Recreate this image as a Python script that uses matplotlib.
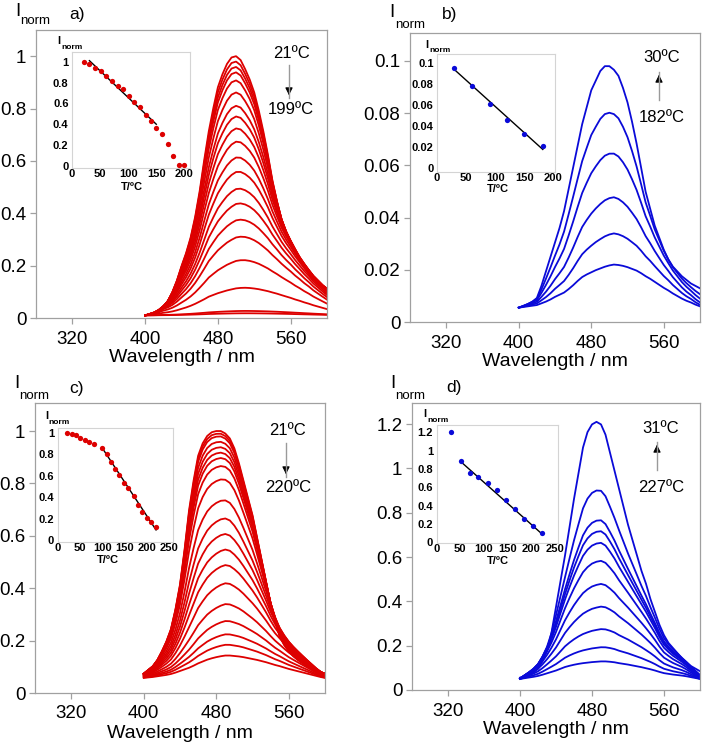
import matplotlib
matplotlib.use('Agg')
import matplotlib.pyplot as plt
import matplotlib.patches as mpatches
import numpy as np
from matplotlib.lines import Line2D

plt.rcParams['font.family'] = ['Liberation Sans', 'DejaVu Sans']

# ---------------- data ----------------
wavelength = [400, 405, 410, 415, 420, 425, 430, 435, 440, 445, 450,
              455, 460, 465, 470, 475, 480, 485, 490, 495, 500,
              505, 510, 515, 520, 525, 530, 535, 540, 545, 550,
              555, 560, 565, 570, 575, 580, 585, 590, 595, 600]

# panel a (red) - normalised shapes of the strongest / weakest spectra
a_top = [0, .002, .005, .012, .03, .055, .09, .135, .19, .24, .30,
         .38, .48, .60, .71, .80, .88, .93, .97, .995, 1.0,
         .985, .95, .91, .86, .79, .71, .62, .52, .44, .37,
         .32, .28, .245, .21, .185, .16, .14, .125, .11, .10]
a_bot = [0, .02, .04, .07, .10, .12, .15, .19, .24, .29, .35,
         .42, .50, .58, .67, .73, .79, .84, .89, .93, .97,
         .99, 1.0, .995, .98, .96, .93, .90, .86, .82, .77,
         .72, .67, .61, .56, .50, .45, .39, .34, .29, .24]
a_peaks = [1.0, 0.98, 0.96, 0.94, 0.91, 0.865, 0.815, 0.775, 0.73, 0.68,
           0.62, 0.565, 0.50, 0.443, 0.38, 0.314, 0.223, 0.116, 0.027, 0.018]
a_base = 0.01
a_T = [21, 31, 41, 51, 61, 71, 81, 91, 101, 111, 121, 131, 141, 150, 160, 171, 180, 190, 199]
a_I = [1.0, 0.975, 0.943, 0.911, 0.863, 0.812, 0.77, 0.735, 0.674, 0.617,
       0.563, 0.492, 0.434, 0.367, 0.304, 0.208, 0.099, 0.012, 0.005]
a_fit_T = [31, 150]
a_fit_I = [1.01, 0.40]

# panel b (blue)
b_top = [0, .007, .015, .025, .04, .09, .15, .21, .27, .33, .40,
         .49, .58, .67, .76, .83, .90, .94, .98, 1.0, 1.0,
         .985, .96, .91, .85, .77, .68, .58, .48, .41, .34,
         .29, .24, .20, .17, .15, .13, .115, .10, .09, .08]
b_bot = [0, .015, .03, .045, .06, .10, .14, .19, .25, .30, .35,
         .43, .52, .62, .71, .77, .82, .87, .91, .95, .98,
         1.0, .99, .97, .94, .90, .86, .80, .73, .67, .60,
         .53, .46, .40, .33, .27, .21, .16, .12, .07, .03]
b_peaks = [0.098, 0.0805, 0.065, 0.048, 0.034, 0.022]
b_base = 0.0055
b_T = [30, 61, 91, 121, 150, 182]
b_I = [0.096, 0.078, 0.061, 0.046, 0.033, 0.021]
b_fit_T = [30, 182]
b_fit_I = [0.094, 0.018]

# panel c (red)
c_top = [.02, .035, .05, .075, .11, .15, .20, .28, .38, .52, .68,
         .80, .90, .95, .98, .995, 1.0, 1.0, .99, .97, .93,
         .87, .80, .73, .66, .57, .48, .39, .30, .23, .17,
         .135, .11, .09, .075, .062, .05, .04, .03, .025, .02]
c_bot = [.03, .05, .07, .10, .13, .16, .20, .26, .33, .40, .47,
         .56, .66, .74, .82, .88, .93, .97, 1.0, 1.0, .98,
         .96, .93, .89, .85, .81, .76, .71, .65, .59, .54,
         .48, .42, .37, .32, .27, .22, .17, .12, .07, .03]
c_peaks = [1.0, 0.99, 0.98, 0.96, 0.94, 0.92, 0.90, 0.87, 0.82, 0.74,
           0.67, 0.61, 0.55, 0.49, 0.42, 0.34, 0.275, 0.224, 0.184, 0.143]
c_base = 0.055
c_T = [21, 32, 41, 50, 60, 70, 81, 99, 110, 119, 128, 138, 148, 158, 170, 179, 189, 199, 209, 219]
c_I = [1.0, 0.987, 0.98, 0.955, 0.932, 0.916, 0.896, 0.863, 0.808, 0.73,
       0.665, 0.604, 0.533, 0.49, 0.416, 0.331, 0.26, 0.208, 0.166, 0.124]
c_fit_T = [99, 220]
c_fit_I = [0.865, 0.095]

# panel d (blue)
d_top = [.005, .01, .015, .025, .04, .07, .11, .18, .28, .38, .48,
         .59, .70, .80, .90, .96, .99, 1.0, .99, .95, .88,
         .81, .74, .67, .60, .54, .48, .42, .37, .31, .26,
         .21, .17, .14, .12, .10, .08, .065, .05, .04, .03]
d_bot = [0, .04, .08, .12, .17, .24, .32, .40, .48, .58, .68,
         .75, .81, .86, .90, .93, .96, .98, 1.0, 1.0, .98,
         .95, .90, .86, .82, .77, .72, .67, .61, .55, .48,
         .40, .33, .29, .25, .22, .19, .15, .10, .05, 0]
d_peaks = [1.21, 0.905, 0.77, 0.72, 0.667, 0.585, 0.48, 0.377, 0.275, 0.193, 0.129]
d_base = 0.05
d_T = [30, 51, 70, 88, 108, 127, 147, 166, 185, 203, 222]
d_I = [1.2, 0.888, 0.761, 0.71, 0.651, 0.567, 0.461, 0.359, 0.252, 0.175, 0.106]
d_fit_T = [51, 222]
d_fit_I = [0.88, 0.095]

x_ticks = [320, 400, 480, 560]

# ---------------- layout helpers ----------------
W, H = 702, 746
fig = plt.figure(figsize=(W / 100, H / 100), dpi=100)


def fx(x):
    return x / W


def fy(y):
    return 1 - y / H


def rect(l, t, r, b):
    return [fx(l), fy(b), (r - l) / W, (b - t) / H]


RED = '#dd0000'
BLUE = '#0a0ad8'
SPINE = '#a0a0a0'

panels = [
    dict(top=a_top, bot=a_bot, peaks=a_peaks, base=a_base, color=RED,
         T=a_T, I=a_I, fT=a_fit_T, fI=a_fit_I,
         box=(36, 30, 327, 318), ylim=(0, 1.1), yt=[0, 0.2, 0.4, 0.6, 0.8, 1.0],
         inset=(72, 51.7, 190, 168), ixlim=(0, 210), iylim=(-0.02, 1.096),
         ixt=[0, 50, 100, 150, 200], iyt=[0, 0.2, 0.4, 0.6, 0.8, 1.0],
         letter='a)', lpos=(18, 11, 35, 21, 77, 14),
         ilab=(59, 41, 72, 47.5), txy=(132, 187),
         t1='21ºC', t2='199ºC', t1y=53, t2y=110, tx=291, ax_x=289, a_tail=65, a_tip=98),
    dict(top=b_top, bot=b_bot, peaks=b_peaks, base=b_base, color=BLUE,
         T=b_T, I=b_I, fT=b_fit_T, fI=b_fit_I,
         box=(410, 33, 700, 322), ylim=(0, 0.1107), yt=[0, 0.02, 0.04, 0.06, 0.08, 0.1],
         inset=(437, 54.3, 555, 171.5), ixlim=(0, 203), iylim=(-0.003, 0.1086),
         ixt=[0, 50, 100, 150, 200], iyt=[0, 0.02, 0.04, 0.06, 0.08, 0.1],
         letter='b)', lpos=(392, 12.5, 410, 25, 450, 14),
         ilab=(426.5, 45, 439.5, 51), txy=(497.5, 189),
         t1='30ºC', t2='182ºC', t1y=58, t2y=117, tx=662, ax_x=659, a_tail=100, a_tip=72),
    dict(top=c_top, bot=c_bot, peaks=c_peaks, base=c_base, color=RED,
         T=c_T, I=c_I, fT=c_fit_T, fI=c_fit_I,
         box=(35, 403, 325, 693), ylim=(0, 1.107), yt=[0, 0.2, 0.4, 0.6, 0.8, 1.0],
         inset=(57.7, 427.7, 173, 541.7), ixlim=(0, 258), iylim=(-0.015, 1.05),
         ixt=[0, 50, 100, 150, 200, 250], iyt=[0, 0.2, 0.4, 0.6, 0.8, 1.0],
         letter='c)', lpos=(17, 383.5, 34, 396, 77, 388),
         ilab=(46.5, 416, 59, 422.5), txy=(108, 560),
         t1='21ºC', t2='220ºC', t1y=430, t2y=488, tx=288, ax_x=286, a_tail=443, a_tip=477),
    dict(top=d_top, bot=d_bot, peaks=d_peaks, base=d_base, color=BLUE,
         T=d_T, I=d_I, fT=d_fit_T, fI=d_fit_I,
         box=(412, 403, 700, 690), ylim=(0, 1.295), yt=[0, 0.2, 0.4, 0.6, 0.8, 1.0, 1.2],
         inset=(436.7, 425, 557.7, 543), ixlim=(0, 256), iylim=(-0.007, 1.28),
         ixt=[0, 50, 100, 150, 200, 250], iyt=[0, 0.2, 0.4, 0.6, 0.8, 1.0, 1.2],
         letter='d)', lpos=(392.5, 383.5, 410, 396, 454, 387.5),
         ilab=(425, 414, 438, 420.5), txy=(498, 561),
         t1='31ºC', t2='227ºC', t1y=428, t2y=487, tx=661, ax_x=657, a_tail=470, a_tip=442),
]


def fmt(v):
    return '%g' % v


for p in panels:
    l, t, r, b = p['box']
    ax = fig.add_axes(rect(l, t, r, b))
    top = np.array(p['top'])
    bot = np.array(p['bot'])
    pk = p['peaks']
    pmax, pmin = max(pk), min(pk)
    for peak in pk:
        w = (peak - pmin) / (pmax - pmin)
        shape = w * top + (1 - w) * bot
        y = p['base'] + (peak - p['base']) * shape
        ax.plot(wavelength, y, color=p['color'], lw=1.3, solid_joinstyle='round')
    ax.set_xlim(280, 600)
    ax.set_ylim(*p['ylim'])
    ax.set_xticks(x_ticks)
    ax.set_xticklabels([str(v) for v in x_ticks])
    ax.set_yticks(p['yt'])
    ax.set_yticklabels([fmt(v) for v in p['yt']])
    for s in ax.spines.values():
        s.set_color(SPINE)
        s.set_linewidth(0.9)
    ax.tick_params(axis='both', direction='out', length=4, width=0.9,
                   color=SPINE, labelsize=13.5, labelcolor='black')
    ax.tick_params(axis='x', pad=5)
    ax.tick_params(axis='y', pad=3)
    # x label
    fig.text(fx((l + r) / 2), fy(b + 40), 'Wavelength / nm', ha='center', va='center', fontsize=14)
    # I_norm label + panel letter
    ix, iy, nx, ny, lx, ly = p['lpos']
    fig.text(fx(ix), fy(iy), 'I', ha='center', va='center', fontsize=13.5)
    fig.text(fx(nx), fy(ny), 'norm', ha='center', va='center', fontsize=9.5)
    fig.text(fx(lx), fy(ly), p['letter'], ha='center', va='center', fontsize=12.5)
    # temperature annotations
    fig.text(fx(p['tx']), fy(p['t1y']), p['t1'], ha='center', va='center', fontsize=12)
    fig.text(fx(p['tx']), fy(p['t2y']), p['t2'], ha='center', va='center', fontsize=12)
    xa = p['ax_x']
    fig.add_artist(Line2D([fx(xa), fx(xa)], [fy(p['a_tail']), fy(p['a_tip'])],
                          color='#9a9a9a', lw=1.0))
    direction = 1 if p['a_tip'] > p['a_tail'] else -1
    fig.add_artist(mpatches.FancyArrowPatch(
        (fx(xa), fy(p['a_tip'] - direction * 8)), (fx(xa), fy(p['a_tip'])),
        transform=fig.transFigure, arrowstyle='-|>', mutation_scale=11,
        color='black', lw=0.8))

    # inset
    il, it, ir, ib = p['inset']
    ai = fig.add_axes(rect(il, it, ir, ib))
    ai.plot(p['fT'], p['fI'], color='black', lw=1.0, zorder=2)
    ai.plot(p['T'], p['I'], 'o', color=p['color'], ms=3.8, mec='none', zorder=3, clip_on=False)
    ai.set_xlim(*p['ixlim'])
    ai.set_ylim(*p['iylim'])
    ai.set_xticks(p['ixt'])
    ai.set_xticklabels([fmt(v) for v in p['ixt']])
    ai.set_yticks(p['iyt'])
    ai.set_yticklabels([fmt(v) for v in p['iyt']])
    for s in ai.spines.values():
        s.set_color('#d4d4d4')
        s.set_linewidth(0.8)
    ai.tick_params(axis='both', length=0, labelsize=8)
    ai.tick_params(axis='x', pad=1)
    ai.tick_params(axis='y', pad=2.5)
    for lab in ai.get_xticklabels() + ai.get_yticklabels():
        lab.set_fontweight('bold')
    a1, b1, a2, b2 = p['ilab']
    fig.text(fx(a1), fy(b1), 'I', ha='center', va='center', fontsize=8, fontweight='bold')
    fig.text(fx(a2), fy(b2), 'norm', ha='center', va='center', fontsize=6, fontweight='bold')
    fig.text(fx(p['txy'][0]), fy(p['txy'][1]), 'T/ºC', ha='center', va='center',
             fontsize=8, fontweight='bold')

fig.savefig('out.png', dpi=100)
